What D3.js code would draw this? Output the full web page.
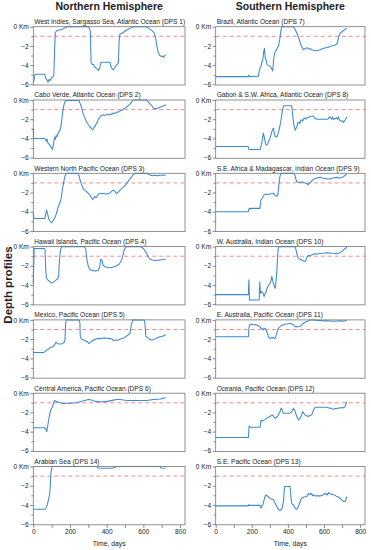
<!DOCTYPE html>
<meta charset="utf-8"/>
<html>
<head>
<script src="https://d3js.org/d3.v7.min.js"></script>
<style>
 * { padding: 0; margin: 0; }
 body { background: #fff; }
 text { font-family: "Liberation Sans", Arial, Helvetica, sans-serif; fill: #222; }
</style>
</head>
<body>
<div id="chart"></div>
<script>

// panel titles, top to bottom
var leftTitles = [
  "West Indies, Sargasso Sea, Atlantic Ocean (DPS 1)",
  "Cabo Verde, Atlantic Ocean (DPS 2)",
  "Western North Pacific Ocean (DPS 3)",
  "Hawaii Islands, Pacific Ocean (DPS 4)",
  "Mexico, Pacific Ocean (DPS 5)",
  "Central America, Pacific Ocean (DPS 6)",
  "Arabian Sea (DPS 14)"
];
var rightTitles = [
  "Brazil, Atlantic Ocean (DPS 7)",
  "Gabon & S.W. Africa, Atlantic Ocean (DPS 8)",
  "S.E. Africa & Madagascar, Indian Ocean (DPS 9)",
  "W. Australia, Indian Ocean (DPS 10)",
  "E. Australia, Pacific Ocean (DPS 11)",
  "Oceania, Pacific Ocean (DPS 12)",
  "S.E. Pacific Ocean (DPS 13)"
];

var yTicks = [0, -1, -2, -3, -4, -5, -6];
var xTicks = [0, 100, 200, 300, 400, 500, 600, 700, 800];
var threshold = -1;   // km, dashed line

// depth profiles: [day, km]
var dps1 = [[0,-5.8],[4,-5.5],[9,-4.95],[30,-4.95],[62,-4.95],[68,-5.4],[75,-5.55],[80,-5.8],[86,-5.5],[92,-5.6],[100,-5.3],[106,-5.25],[112,-5.0],[116,-2.5],[120,-0.6],[126,-0.45],[140,-0.35],[155,-0.3],[170,-0.15],[185,0],[300,0],[306,-0.15],[311,-0.5],[315,-3.7],[322,-3.95],[328,-3.9],[335,-4.2],[342,-4.3],[350,-4.45],[356,-4.55],[362,-4.3],[368,-3.7],[418,-3.7],[424,-4.2],[430,-4.4],[436,-4.5],[444,-4.25],[452,-4.05],[458,-3.9],[464,-3.75],[468,-1.5],[472,-0.75],[480,-0.7],[490,-0.6],[500,-0.45],[515,-0.3],[530,-0.15],[545,0],[615,0],[628,-0.15],[640,-0.3],[650,-0.45],[660,-0.7],[667,-1.2],[674,-2.1],[680,-2.6],[688,-2.95],[696,-3.1],[704,-3.05],[710,-3.2],[716,-3.0],[722,-2.95]];

var dps2 = [[0,-2.95],[2,-4.0],[60,-4.0],[66,-4.1],[71,-4.3],[75,-4.05],[80,-4.5],[86,-4.6],[92,-4.75],[98,-4.95],[104,-5.15],[108,-4.8],[112,-4.3],[116,-3.9],[120,-4.1],[124,-3.7],[128,-3.85],[134,-3.5],[140,-3.35],[146,-3.1],[152,-2.6],[158,-1.6],[164,-0.8],[170,-0.3],[176,-0.05],[250,-0.05],[256,-0.4],[262,-0.7],[270,-1.3],[278,-1.7],[286,-2.1],[294,-2.4],[302,-2.6],[310,-2.8],[318,-3.0],[324,-3.1],[330,-2.9],[336,-2.75],[344,-2.45],[352,-2.15],[358,-1.9],[364,-1.75],[372,-1.6],[382,-1.55],[392,-1.6],[402,-1.5],[412,-1.55],[420,-1.45],[428,-1.5],[436,-1.35],[446,-1.4],[456,-1.25],[466,-1.25],[476,-1.1],[486,-1.05],[496,-0.85],[506,-0.8],[516,-0.6],[526,-0.45],[536,-0.2],[546,0],[618,0],[627,-0.2],[636,-0.4],[645,-0.55],[655,-0.85],[665,-0.9],[675,-0.85],[690,-0.75],[705,-0.65],[714,-0.6],[722,-0.5]];

var dps3 = [[0,-4.2],[3,-4.7],[64,-4.7],[68,-4.2],[72,-3.8],[76,-4.1],[80,-4.4],[86,-4.8],[92,-5.0],[100,-5.15],[106,-5.0],[112,-4.8],[118,-4.6],[124,-4.3],[130,-3.9],[136,-3.5],[142,-3.2],[150,-2.8],[156,-2.0],[162,-1.3],[168,-0.7],[174,-0.2],[180,0],[245,0],[250,-0.3],[255,-0.7],[260,-1.0],[265,-1.25],[272,-1.6],[280,-1.75],[290,-1.9],[300,-2.1],[310,-2.3],[318,-2.55],[324,-2.75],[330,-2.6],[336,-2.4],[342,-2.55],[350,-2.3],[356,-2.15],[364,-2.1],[380,-2.1],[400,-2.15],[418,-2.05],[428,-1.85],[436,-1.75],[445,-1.9],[452,-2.1],[460,-2.0],[468,-1.85],[478,-1.65],[488,-1.5],[498,-1.3],[508,-1.1],[518,-0.8],[528,-0.6],[538,-0.3],[545,-0.15],[555,0],[618,0],[630,-0.1],[640,-0.2],[650,-0.25],[660,-0.2],[675,-0.25],[690,-0.2],[722,-0.2]];

var dps4 = [[0,-3.9],[3,-1.5],[5,-0.2],[60,-0.2],[64,-0.3],[68,-2.5],[72,-3.3],[80,-3.5],[90,-3.65],[100,-3.8],[110,-3.7],[120,-3.55],[130,-3.4],[138,-3.2],[142,-1.6],[148,-0.4],[155,0],[280,0],[286,-0.3],[292,-1.3],[300,-2.1],[310,-2.4],[325,-2.5],[340,-2.55],[355,-2.45],[362,-2.1],[368,-1.3],[374,-1.4],[380,-1.9],[390,-2.1],[410,-2.2],[430,-2.15],[450,-2.05],[470,-1.8],[485,-1.2],[495,-0.4],[505,0],[585,0],[600,-0.2],[615,-0.6],[625,-1.0],[635,-1.3],[650,-1.4],[670,-1.45],[690,-1.4],[710,-1.35],[722,-1.3]];

var dps5 = [[0,-3.5],[3,-3.4],[55,-3.4],[64,-3.3],[70,-3.2],[76,-3.1],[82,-3.05],[90,-2.9],[100,-2.85],[110,-2.75],[116,-2.6],[120,-2.45],[124,-2.3],[130,-2.45],[140,-2.5],[150,-2.5],[160,-2.45],[168,-2.35],[173,-2.1],[176,-0.4],[180,0],[250,0],[254,-0.3],[256,-1.7],[262,-2.0],[268,-2.05],[276,-2.1],[286,-2.2],[296,-2.3],[302,-2.45],[308,-2.4],[316,-2.25],[326,-2.15],[336,-2.05],[346,-1.95],[360,-1.95],[380,-1.9],[400,-1.9],[418,-1.95],[430,-2.0],[436,-2.15],[448,-2.1],[458,-2.15],[466,-2.05],[476,-2.0],[490,-1.9],[500,-1.8],[515,-1.6],[527,-1.4],[535,-0.5],[542,0],[604,0],[609,-0.4],[613,-1.7],[626,-1.9],[636,-2.05],[646,-2.1],[656,-2.05],[666,-1.95],[676,-1.85],[690,-1.75],[705,-1.7],[722,-1.55]];

var dps6 = [[0,-3.55],[3,-3.6],[62,-3.6],[68,-3.7],[73,-4.0],[78,-3.47],[87,-2.43],[95,-1.74],[105,-1.39],[115,-0.76],[122,-0.85],[130,-0.88],[138,-0.95],[146,-1.0],[164,-1.1],[182,-1.05],[210,-1.05],[230,-1.0],[246,-0.95],[264,-0.85],[282,-0.75],[300,-0.65],[318,-0.7],[336,-0.85],[360,-0.9],[380,-0.88],[400,-0.85],[418,-0.8],[436,-0.72],[455,-0.65],[473,-0.65],[491,-0.7],[510,-0.75],[545,-0.75],[618,-0.75],[636,-0.7],[655,-0.65],[673,-0.62],[691,-0.6],[709,-0.55],[722,-0.45]];

var dps14 = [[0,-4.35],[3,-4.45],[64,-4.45],[70,-4.3],[76,-4.0],[82,-3.5],[88,-3.0],[92,-2.2],[96,-0.7],[102,0],[345,0],[352,-0.15],[380,-0.18],[420,-0.18],[436,-0.15],[448,-0.05],[455,0],[691,0],[696,-0.15],[722,-0.18]];

var dps7 = [[0,-5.2],[180,-5.2],[183,-5.05],[186,-5.2],[237,-5.15],[242,-4.5],[250,-4.15],[257,-3.65],[262,-3.3],[266,-2.6],[270,-2.25],[274,-3.2],[279,-3.5],[285,-3.95],[295,-4.05],[305,-4.2],[312,-4.45],[316,-4.6],[320,-3.6],[325,-2.9],[330,-2.55],[336,-2.45],[342,-2.2],[347,-2.05],[352,-1.6],[357,-1.05],[362,-0.3],[366,0],[430,0],[440,-0.3],[449,-0.65],[456,-1.0],[464,-1.4],[470,-1.8],[477,-2.1],[486,-2.4],[492,-2.3],[500,-2.25],[510,-2.2],[518,-2.35],[526,-2.3],[534,-2.4],[542,-2.45],[552,-2.5],[560,-2.5],[570,-2.45],[580,-2.4],[590,-2.3],[600,-2.25],[610,-2.2],[620,-2.15],[630,-2.1],[640,-2.0],[652,-1.95],[662,-1.9],[671,-1.8],[676,-1.5],[682,-1.0],[689,-0.7],[700,-0.5],[712,-0.35],[726,-0.15]];

var dps8 = [[0,-4.85],[180,-4.85],[184,-5.15],[245,-5.15],[250,-4.9],[255,-4.5],[260,-3.9],[264,-3.45],[270,-4.0],[276,-4.5],[280,-4.7],[288,-4.6],[295,-4.2],[302,-3.9],[308,-3.5],[314,-3.1],[320,-2.95],[325,-3.5],[330,-3.8],[336,-3.85],[342,-3.75],[350,-3.2],[357,-2.6],[364,-1.8],[370,-1.05],[376,-0.6],[421,-0.6],[426,-1.5],[432,-2.5],[440,-3.15],[445,-2.95],[450,-2.75],[455,-2.35],[460,-2.3],[466,-2.45],[471,-2.1],[477,-2.05],[482,-2.2],[488,-1.95],[494,-1.85],[500,-2.0],[506,-1.85],[514,-1.8],[522,-1.75],[532,-1.7],[542,-1.7],[548,-1.9],[560,-2.0],[580,-2.0],[600,-2.0],[616,-2.0],[624,-1.95],[630,-1.75],[636,-1.85],[642,-2.0],[646,-1.75],[652,-2.05],[660,-1.95],[668,-1.85],[674,-2.0],[680,-1.75],[686,-2.1],[694,-2.2],[702,-2.15],[708,-2.35],[714,-2.15],[720,-2.0],[726,-1.75]];

var dps9 = [[0,-4.0],[180,-4.0],[183,-3.8],[186,-3.65],[189,-3.75],[192,-3.65],[245,-3.65],[250,-2.8],[258,-2.6],[266,-2.3],[272,-2.2],[280,-2.15],[290,-2.25],[300,-2.15],[310,-2.1],[320,-2.1],[330,-2.3],[338,-2.4],[344,-2.25],[350,-1.2],[356,-0.3],[362,0],[431,0],[438,-0.15],[444,-0.6],[449,-0.85],[458,-0.95],[468,-0.95],[478,-0.9],[486,-0.95],[496,-1.0],[505,-1.05],[512,-1.2],[518,-1.05],[523,-1.0],[530,-0.85],[540,-0.65],[550,-0.55],[560,-0.5],[570,-0.45],[580,-0.42],[590,-0.48],[600,-0.52],[616,-0.58],[626,-0.6],[634,-0.6],[644,-0.52],[652,-0.5],[662,-0.45],[671,-0.42],[680,-0.45],[689,-0.5],[700,-0.4],[708,-0.35],[718,-0.2],[726,-0.07]];

var dps10 = [[0,-5.0],[181,-5.0],[184,-3.45],[187,-5.55],[241,-5.55],[244,-3.65],[248,-4.85],[256,-4.7],[262,-4.85],[268,-5.2],[274,-4.9],[279,-4.7],[287,-4.2],[295,-4.0],[301,-3.8],[306,-3.6],[311,-3.1],[316,-3.6],[321,-3.9],[329,-4.35],[335,-3.5],[339,-2.5],[342,-1.4],[345,-0.4],[348,0],[440,0],[445,-0.35],[449,-0.7],[454,-1.05],[458,-1.2],[466,-1.3],[477,-1.4],[486,-1.5],[495,-1.55],[501,-1.4],[505,-1.1],[510,-1.0],[514,-0.9],[519,-0.95],[523,-1.0],[528,-0.9],[534,-0.85],[542,-0.78],[552,-0.75],[562,-0.78],[578,-0.72],[597,-0.7],[616,-0.65],[634,-0.68],[652,-0.7],[662,-0.72],[671,-0.75],[680,-0.7],[689,-0.62],[700,-0.5],[708,-0.35],[718,-0.2],[726,-0.05]];

var dps11 = [[0,-1.75],[181,-1.75],[184,-0.9],[187,-0.52],[200,-0.45],[215,-0.5],[227,-0.52],[236,-0.6],[246,-0.7],[250,-0.85],[255,-0.88],[260,-0.95],[264,-1.04],[268,-0.9],[274,-0.88],[278,-1.05],[283,-1.2],[288,-1.5],[292,-1.8],[297,-1.9],[301,-1.92],[308,-1.85],[314,-1.88],[320,-1.8],[325,-1.95],[329,-1.92],[334,-1.7],[338,-1.4],[342,-1.1],[347,-0.87],[352,-0.75],[357,-0.7],[366,-0.55],[375,-0.5],[385,-0.45],[394,-0.42],[403,-0.4],[412,-0.35],[420,-0.4],[431,-0.52],[436,-0.6],[440,-0.7],[445,-0.72],[449,-0.7],[458,-0.72],[468,-0.68],[477,-0.52],[486,-0.35],[495,-0.25],[505,-0.17],[514,-0.1],[523,0],[542,0],[560,-0.05],[579,-0.07],[598,-0.1],[616,-0.1],[634,-0.12],[652,-0.14],[670,-0.12],[689,-0.1],[708,-0.14],[718,-0.1],[726,-0.07]];

var dps12 = [[0,-4.62],[181,-4.62],[185,-3.4],[188,-3.54],[246,-3.54],[251,-2.8],[257,-2.9],[264,-2.85],[272,-2.75],[283,-2.6],[292,-2.5],[301,-2.43],[308,-2.3],[316,-2.26],[322,-2.45],[329,-2.6],[336,-2.5],[342,-2.43],[350,-2.15],[357,-1.91],[362,-1.56],[366,-1.6],[370,-1.9],[375,-2.08],[394,-2.08],[412,-2.08],[422,-1.9],[431,-1.56],[436,-1.75],[440,-1.9],[445,-2.2],[449,-2.43],[454,-2.6],[458,-2.78],[463,-2.7],[468,-2.6],[475,-2.3],[482,-1.91],[488,-2.1],[495,-2.26],[504,-2.35],[514,-2.43],[523,-2.3],[532,-2.26],[537,-2.0],[542,-1.74],[551,-1.46],[580,-1.46],[616,-1.46],[625,-1.55],[634,-1.55],[643,-1.62],[652,-1.67],[662,-1.6],[671,-1.6],[680,-1.55],[689,-1.53],[700,-1.5],[708,-1.53],[717,-1.39],[722,-1.1],[726,-0.87]];

var dps13 = [[0,-4.1],[181,-4.1],[184,-3.95],[187,-4.05],[246,-4.05],[251,-4.34],[256,-4.1],[261,-3.99],[265,-3.7],[268,-3.47],[274,-3.1],[279,-2.95],[285,-3.05],[292,-3.13],[301,-3.3],[310,-3.4],[320,-3.47],[329,-3.82],[338,-4.17],[347,-4.44],[352,-4.55],[357,-4.58],[362,-4.5],[366,-4.44],[372,-3.99],[376,-3.5],[381,-2.08],[412,-2.08],[416,-3.0],[421,-3.82],[426,-3.95],[431,-3.99],[436,-4.2],[440,-4.34],[445,-4.44],[449,-4.44],[454,-4.3],[458,-4.17],[463,-3.9],[468,-3.65],[472,-3.4],[477,-3.3],[486,-3.19],[495,-3.15],[505,-3.13],[514,-2.78],[518,-2.9],[523,-2.95],[528,-2.78],[532,-2.85],[537,-3.06],[542,-2.95],[551,-3.06],[560,-3.06],[579,-3.06],[597,-2.95],[606,-2.78],[611,-2.9],[616,-2.85],[620,-2.95],[625,-2.71],[630,-2.8],[634,-2.85],[643,-2.9],[652,-2.95],[662,-3.0],[671,-3.13],[680,-3.2],[689,-3.3],[698,-3.47],[708,-3.65],[717,-3.65],[722,-3.4],[726,-3.13]];

var leftSeries = [dps1, dps2, dps3, dps4, dps5, dps6, dps14];
var rightSeries = [dps7, dps8, dps9, dps10, dps11, dps12, dps13];

var width = 371, height = 550;
var rowTop = 26.7, rowStep = 73.3, plotH = 58.3;
var columns = [
  {x0: 33.3, x1: 185, titles: leftTitles, series: leftSeries, header: "Northern Hemisphere"},
  {x0: 215.7, x1: 365, titles: rightTitles, series: rightSeries, header: "Southern Hemisphere"}
];

var svg = d3.select("#chart").append("svg")
  .attr("width", width)
  .attr("height", height);

var fmtY = function(d) {
  if (d === 0) return "0 Km";
  return d % 2 === 0 ? "\u2212" + (-d) : "";
};

columns.forEach(function(col) {
  var x = d3.scaleLinear().domain([0, 827]).range([col.x0, col.x1]);

  svg.append("text")
    .attr("x", (col.x0 + col.x1) / 2)
    .attr("y", 10)
    .attr("text-anchor", "middle")
    .style("font-size", "10.5px")
    .style("font-weight", 700)
    .text(col.header);

  col.series.forEach(function(data, i) {
    var top = rowTop + rowStep * i;
    var y = d3.scaleLinear().domain([-6.07, 0]).range([top + plotH, top]);
    var g = svg.append("g");

    g.append("text")
      .attr("x", col.x0 + 1)
      .attr("y", top - 2.6)
      .style("font-size", "6.6px")
      .text(col.titles[i]);

    var yAxis = g.append("g")
      .attr("transform", "translate(" + col.x0 + ",0)")
      .call(d3.axisLeft(y).tickValues(yTicks).tickSize(3).tickPadding(1.5).tickFormat(fmtY));
    yAxis.select(".domain").remove();
    yAxis.selectAll(".tick line").attr("stroke", "#555").attr("stroke-width", 0.7)
      .filter(function(d) { return d % 2 !== 0; }).attr("x2", -2);
    yAxis.selectAll(".tick text").style("font-size", "6.6px").attr("fill", "#222")
      .style("font-family", "'Liberation Sans', Arial, sans-serif");

    if (i === col.series.length - 1) {
      var xAxis = g.append("g")
        .attr("transform", "translate(0," + (top + plotH) + ")")
        .call(d3.axisBottom(x).tickValues(xTicks).tickSize(3).tickPadding(2)
          .tickFormat(function(d) { return d % 200 === 0 ? d : ""; }));
      xAxis.select(".domain").remove();
      xAxis.selectAll(".tick line").attr("stroke", "#555").attr("stroke-width", 0.7);
      xAxis.selectAll(".tick text").style("font-size", "6.6px").attr("fill", "#222")
        .style("font-family", "'Liberation Sans', Arial, sans-serif");

      g.append("text")
        .attr("x", (col.x0 + col.x1) / 2)
        .attr("y", top + plotH + 21.5)
        .attr("text-anchor", "middle")
        .style("font-size", "6.8px")
        .text("Time, days");
    }

    g.append("line")
      .attr("x1", col.x0).attr("x2", col.x1)
      .attr("y1", y(threshold)).attr("y2", y(threshold))
      .attr("stroke", "#f28b8b")
      .attr("stroke-width", 1)
      .attr("stroke-dasharray", "4,3");

    g.append("path")
      .datum(data)
      .attr("fill", "none")
      .attr("stroke", "#3b8ad0")
      .attr("stroke-width", 1.05)
      .attr("stroke-linejoin", "round")
      .attr("d", d3.line().x(function(d) { return x(d[0]); }).y(function(d) { return y(d[1]); }));

    g.append("rect")
      .attr("x", col.x0).attr("y", top)
      .attr("width", col.x1 - col.x0).attr("height", plotH)
      .attr("fill", "none")
      .attr("stroke", "#777")
      .attr("stroke-width", 0.8);
  });
});

svg.append("text")
  .attr("transform", "translate(11.5,285) rotate(-90)")
  .attr("text-anchor", "middle")
  .style("font-size", "11.5px")
  .style("font-weight", 700)
  .text("Depth profiles");

</script>
</body>
</html>
